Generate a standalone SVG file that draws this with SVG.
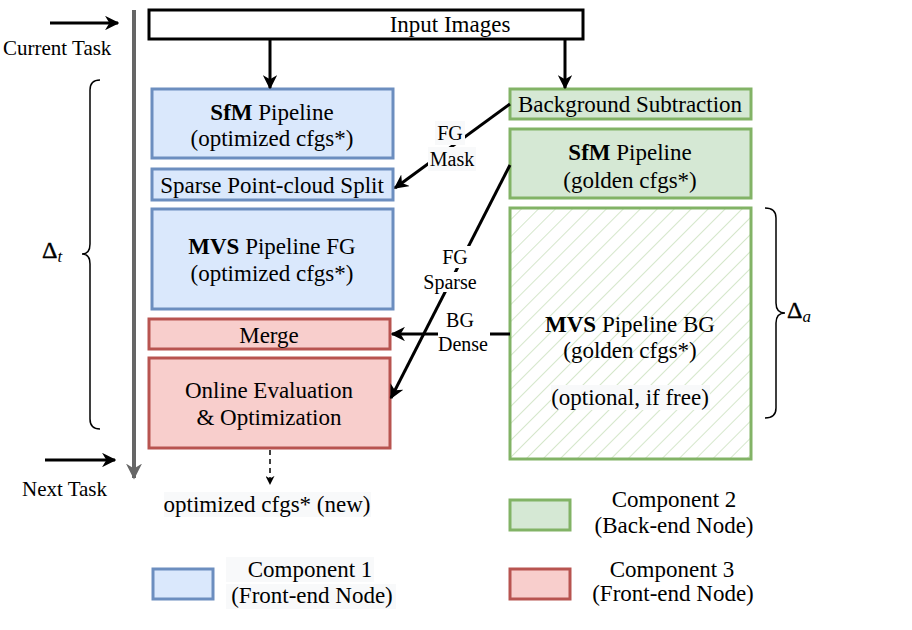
<svg xmlns="http://www.w3.org/2000/svg" width="912" height="630" viewBox="0 0 912 630" font-family="'Liberation Serif', 'DejaVu Serif', serif">
<style>
text{font-family:"Liberation Serif","DejaVu Serif",serif;fill:#000;}
.t{font-size:23px;text-anchor:middle;}
.s{font-size:21px;}
.l{font-size:20px;text-anchor:middle;}
.blue{fill:#dae8fc;stroke:#6c8ebf;stroke-width:3;}
.red{fill:#f8cecc;stroke:#b85450;stroke-width:3;}
.green{fill:#d5e8d4;stroke:#82b366;stroke-width:3;}
.conn{stroke:#000;stroke-width:3;fill:none;}
.lbg{fill:#f8f9fa;}
.delta{font-size:24px;stroke:#000;stroke-width:0.4;}
</style>
<defs>
<marker id="ah" viewBox="0 0 10 10" refX="9" refY="5" markerWidth="4.8" markerHeight="4.8" orient="auto" markerUnits="strokeWidth">
<path d="M0,0 L10,5 L0,10 L3,5 z" fill="#000"/>
</marker>
<marker id="ahg" viewBox="0 0 10 10" refX="9" refY="5" markerWidth="4" markerHeight="4" orient="auto" markerUnits="strokeWidth">
<path d="M0,0 L10,5 L0,10 L3,5 z" fill="#666"/>
</marker>
<marker id="ahs" viewBox="0 0 10 10" refX="9" refY="5" markerWidth="6" markerHeight="6" orient="auto" markerUnits="strokeWidth">
<path d="M0,0 L10,5 L0,10 L3,5 z" fill="#000"/>
</marker>
<pattern id="hatch" patternUnits="userSpaceOnUse" width="12" height="12" patternTransform="rotate(45)">
<line x1="0" y1="0" x2="0" y2="12" stroke="#b9d7a8" stroke-width="1.2"/>
</pattern>
</defs>

<g id="timeline">
<line x1="134" y1="10" x2="134" y2="478" stroke="#666" stroke-width="4" marker-end="url(#ahg)"/>
<line x1="50" y1="23" x2="118" y2="23" class="conn" marker-end="url(#ah)"/>
<text class="s" x="3" y="55">Current Task</text>
<line x1="45" y1="460" x2="115" y2="460" class="conn" marker-end="url(#ah)"/>
<text class="s" x="22" y="496">Next Task</text>
<path d="M100,80 Q90,80 90,90 L90,244 Q90,254 82,254 Q90,254 90,264 L90,419 Q90,429 100,429" fill="none" stroke="#000" stroke-width="1.5"/>
<text x="42" y="258"><tspan class="delta">Δ</tspan><tspan font-style="italic" font-size="17" dy="4">t</tspan></text>
<path d="M765,208 Q776,208 776,218 L776,303 Q776,313 785,313 Q776,313 776,323 L776,408 Q776,418 765,418" fill="none" stroke="#000" stroke-width="1.5"/>
<text x="787" y="318"><tspan class="delta">Δ</tspan><tspan font-style="italic" font-size="17" dy="4">a</tspan></text>
</g>

<g id="input">
<rect x="149" y="10" width="434" height="29" fill="#fff" stroke="#000" stroke-width="3"/>
<text class="t" x="450" y="32">Input Images</text>
</g>

<g id="sfm-opt">
<rect class="blue" x="152" y="89" width="241" height="69"/>
<text class="t" x="272" y="120"><tspan font-weight="bold">SfM</tspan> Pipeline</text>
<text class="t" x="272" y="146">(optimized cfgs*)</text>
</g>
<g id="split">
<rect class="blue" x="152" y="169" width="241" height="31"/>
<text class="t" x="272" y="193">Sparse Point-cloud Split</text>
</g>
<g id="mvs-fg">
<rect class="blue" x="152" y="209" width="241" height="100"/>
<text class="t" x="272" y="254"><tspan font-weight="bold">MVS</tspan> Pipeline FG</text>
<text class="t" x="272" y="281">(optimized cfgs*)</text>
</g>
<g id="merge">
<rect class="red" x="149" y="319" width="241" height="30"/>
<text class="t" x="269" y="343">Merge</text>
</g>
<g id="online">
<rect class="red" x="149" y="358" width="241" height="90"/>
<text class="t" x="269" y="398">Online Evaluation</text>
<text class="t" x="269" y="425">&amp; Optimization</text>
</g>

<g id="bgsub">
<rect class="green" x="510" y="89" width="241" height="30"/>
<text class="t" x="630" y="112">Background Subtraction</text>
</g>
<g id="sfm-golden">
<rect class="green" x="510" y="129" width="241" height="69"/>
<text class="t" x="630" y="160"><tspan font-weight="bold">SfM</tspan> Pipeline</text>
<text class="t" x="630" y="188">(golden cfgs*)</text>
</g>
<g id="mvs-bg">
<rect x="510" y="208" width="241" height="251" fill="url(#hatch)" stroke="#82b366" stroke-width="3"/>
<text class="t" x="630" y="332"><tspan font-weight="bold">MVS</tspan> Pipeline BG</text>
<text class="t" x="630" y="358">(golden cfgs*)</text>
<rect class="lbg" x="551" y="385" width="159" height="25"/>
<text class="t" x="630" y="405">(optional, if free)</text>
</g>

<g id="connectors">
<line class="conn" x1="270" y1="39" x2="270" y2="88" marker-end="url(#ah)"/>
<line class="conn" x1="565" y1="39" x2="565" y2="88" marker-end="url(#ah)"/>
<line class="conn" x1="510" y1="104" x2="395" y2="188" marker-end="url(#ah)"/>
<line class="conn" x1="510" y1="334" x2="392" y2="334" marker-end="url(#ah)"/>
<line class="conn" x1="510" y1="165" x2="391" y2="398" marker-end="url(#ah)"/>
<line x1="270" y1="450" x2="270" y2="484" stroke="#000" stroke-width="1.5" stroke-dasharray="5,4" marker-end="url(#ahs)"/>
<rect class="lbg" x="435" y="121" width="30" height="24"/>
<text class="l" x="450" y="140">FG</text>
<rect class="lbg" x="428" y="147" width="48" height="24"/>
<text class="l" x="452" y="166">Mask</text>
<rect fill="#fff" x="439" y="246" width="32" height="22"/>
<text class="l" x="455" y="264">FG</text>
<rect fill="#fff" x="422" y="272" width="58" height="20"/>
<text class="l" x="450" y="289">Sparse</text>
<rect fill="#fff" x="438" y="310" width="52" height="44"/>
<text class="l" x="460" y="327">BG</text>
<text class="l" x="463" y="351">Dense</text>
</g>

<g id="output">
<rect class="lbg" x="164" y="492" width="207" height="25"/>
<text class="t" x="267" y="512">optimized cfgs* (new)</text>
</g>

<g id="legend">
<rect class="blue" x="153" y="569" width="60" height="30"/>
<rect class="lbg" x="226" y="557" width="148" height="25"/>
<rect class="lbg" x="226" y="584" width="170" height="25"/>
<text class="t" x="310" y="577">Component 1</text>
<text class="t" x="312" y="603">(Front-end Node)</text>
<rect class="green" x="510" y="500" width="60" height="30"/>
<text class="t" x="674" y="507">Component 2</text>
<text class="t" x="674" y="533">(Back-end Node)</text>
<rect class="red" x="510" y="569" width="60" height="30"/>
<text class="t" x="672" y="577">Component 3</text>
<text class="t" x="673" y="601">(Front-end Node)</text>
</g>
</svg>
